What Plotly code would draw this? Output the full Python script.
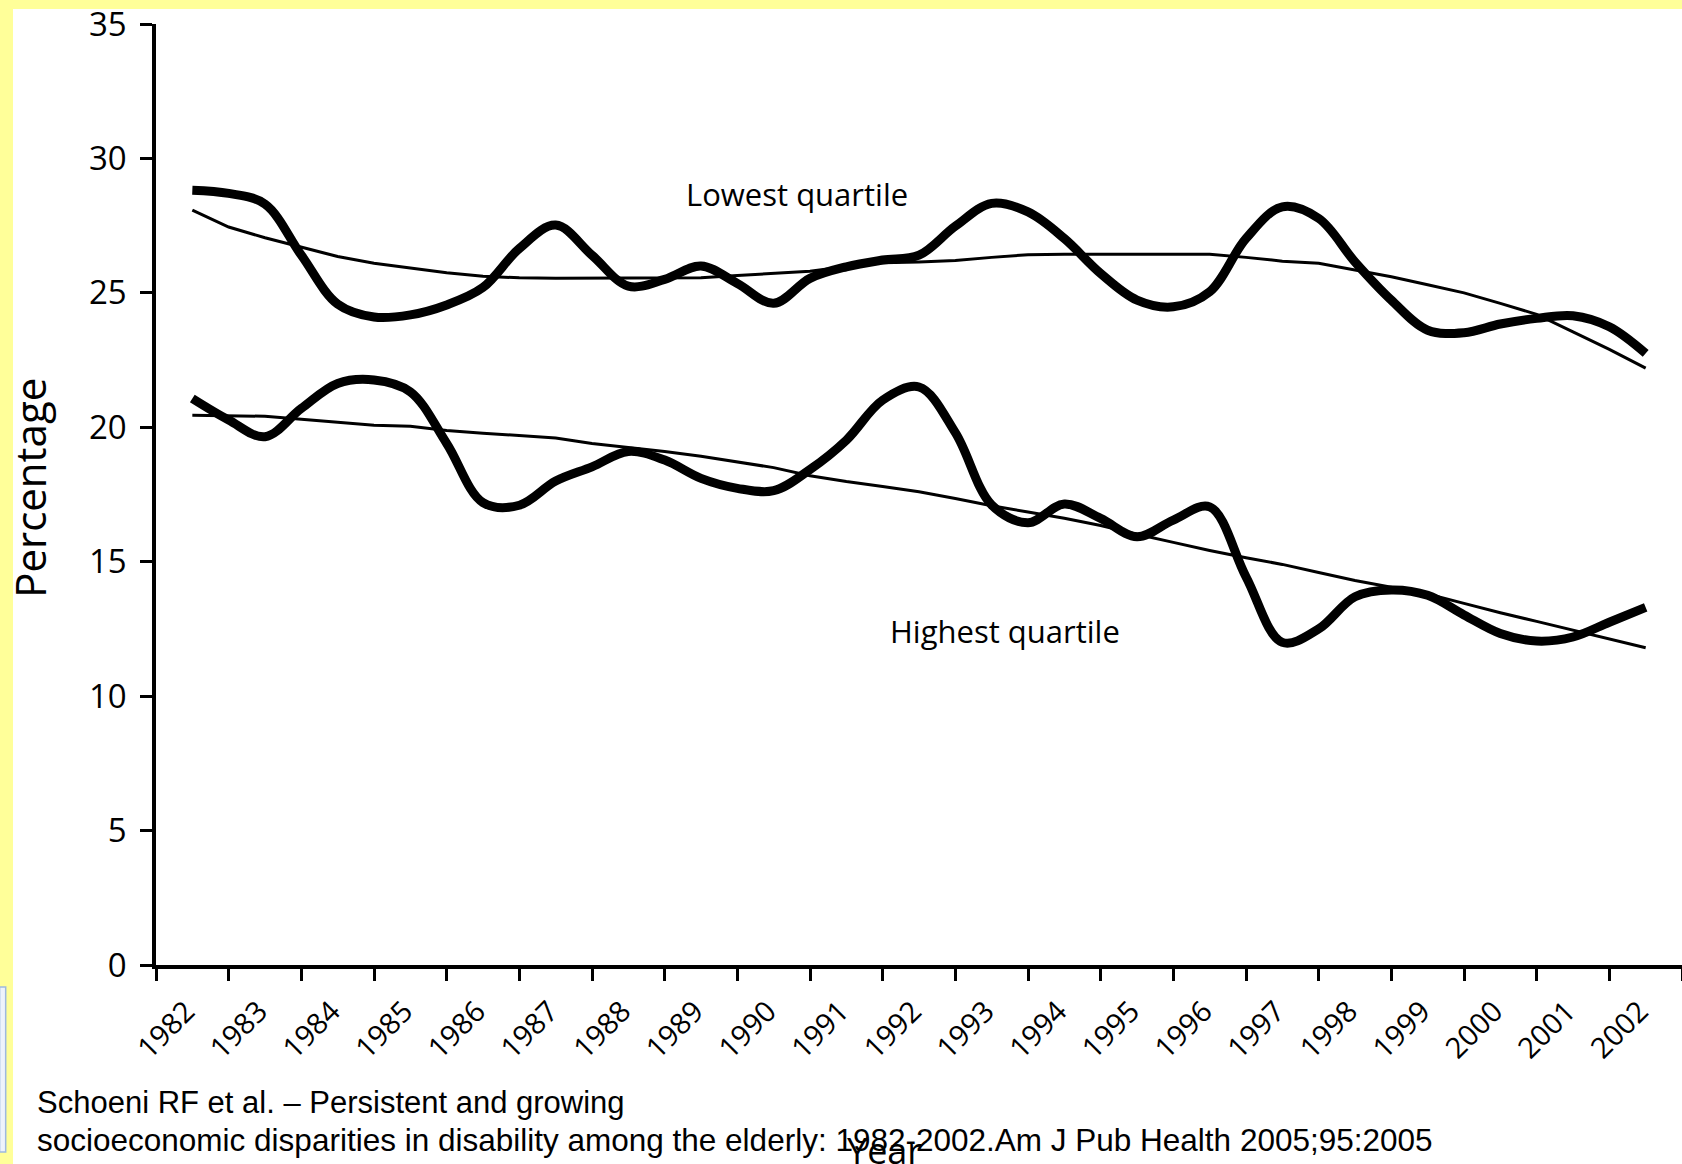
import plotly.graph_objects as go

# half-year sample positions
t = [1982.0, 1982.5, 1983.0, 1983.5, 1984.0, 1984.5, 1985.0, 1985.5, 1986.0, 1986.5,
     1987.0, 1987.5, 1988.0, 1988.5, 1989.0, 1989.5, 1990.0, 1990.5, 1991.0, 1991.5,
     1992.0, 1992.5, 1993.0, 1993.5, 1994.0, 1994.5, 1995.0, 1995.5, 1996.0, 1996.5,
     1997.0, 1997.5, 1998.0, 1998.5, 1999.0, 1999.5, 2000.0, 2000.5, 2001.0, 2001.5,
     2002.0]

lowest = [28.82, 28.70, 28.30, 26.40, 24.58, 24.10, 24.18, 24.55, 25.20, 26.65,
          27.52, 26.40, 25.25, 25.50, 26.00, 25.35, 24.61, 25.54, 25.97, 26.22,
          26.40, 27.48, 28.33, 28.01, 27.02, 25.72, 24.73, 24.48, 25.04, 27.02,
          28.20, 27.77, 26.15, 24.73, 23.61, 23.52, 23.84, 24.05, 24.15, 23.74,
          22.75]

lowest_trend = [28.08, 27.45, 27.05, 26.70, 26.35, 26.10, 25.92, 25.75, 25.62, 25.56,
                25.54, 25.54, 25.54, 25.54, 25.56, 25.65, 25.72, 25.80, 25.98, 26.12,
                26.15, 26.20, 26.32, 26.42, 26.44, 26.44, 26.44, 26.44, 26.44, 26.32,
                26.18, 26.10, 25.85, 25.60, 25.30, 25.00, 24.61, 24.20, 23.55, 22.90,
                22.20]

highest = [21.07, 20.27, 19.65, 20.70, 21.63, 21.76, 21.32, 19.40, 17.20, 17.10,
           18.00, 18.53, 19.10, 18.78, 18.10, 17.73, 17.64, 18.43, 19.52, 21.01,
           21.50, 19.80, 17.11, 16.45, 17.15, 16.61, 15.93, 16.55, 17.04, 14.44,
           12.00, 12.50, 13.70, 13.95, 13.75, 13.02, 12.33, 12.05, 12.20, 12.75,
           13.30]

highest_trend = [20.45, 20.43, 20.41, 20.30, 20.18, 20.08, 20.04, 19.88, 19.78, 19.70,
                 19.60, 19.40, 19.25, 19.10, 18.92, 18.72, 18.50, 18.20, 17.98, 17.80,
                 17.60, 17.35, 17.08, 16.85, 16.62, 16.35, 16.02, 15.72, 15.42, 15.15,
                 14.90, 14.60, 14.30, 14.05, 13.80, 13.45, 13.10, 12.78, 12.45, 12.12,
                 11.80]

years = [1982, 1983, 1984, 1985, 1986, 1987, 1988, 1989, 1990, 1991, 1992,
         1993, 1994, 1995, 1996, 1997, 1998, 1999, 2000, 2001, 2002]
year_labels = [str(y) for y in years]
y_ticks = [0, 5, 10, 15, 20, 25, 30, 35]

FONT = "Open Sans"

fig = go.Figure()

# thin trend lines
fig.add_trace(go.Scatter(x=t, y=lowest_trend, mode="lines",
                         line=dict(color="black", width=3)))
fig.add_trace(go.Scatter(x=t, y=highest_trend, mode="lines",
                         line=dict(color="black", width=3)))
# thick observed lines
fig.add_trace(go.Scatter(x=t, y=lowest, mode="lines",
                         line=dict(color="black", width=9, shape="spline", smoothing=1)))
fig.add_trace(go.Scatter(x=t, y=highest, mode="lines",
                         line=dict(color="black", width=9, shape="spline", smoothing=1)))

# ticks sit on year boundaries, labels on year centres
edges = [y - 0.5 for y in years] + [years[-1] + 0.5]

fig.update_xaxes(range=[1981.5, 2002.5], tickmode="array", tickvals=years,
                 ticktext=year_labels, tickangle=-45, ticks="",
                 tickfont=dict(family=FONT, size=29, color="black"),
                 ticklabelstandoff=14, ticklabelshift=-6,
                 showline=True, linewidth=3.5, linecolor="black",
                 showgrid=False, zeroline=False,
                 minor=dict(tickmode="array", tickvals=edges, ticks="outside",
                            ticklen=12, tickwidth=3, tickcolor="black", showgrid=False))
fig.update_yaxes(range=[0, 35], tickmode="array", tickvals=y_ticks,
                 ticks="outside", ticklen=12, tickwidth=3, tickcolor="black",
                 tickfont=dict(family=FONT, size=33, color="black"),
                 ticklabelstandoff=7,
                 showline=True, linewidth=3.5, linecolor="black",
                 showgrid=False, zeroline=False)

# page: yellow frame with white slide area and the little blue box at left
fig.add_shape(type="rect", xref="paper", yref="paper", x0=-0.0937, x1=1.01,
              y0=-0.22, y1=1.0159, fillcolor="white", line_width=0, layer="below")
fig.add_shape(type="rect", xref="paper", yref="paper", x0=-0.1025, x1=-0.0985,
              y0=-0.1987, y1=-0.0234, fillcolor="#eef3fb",
              line=dict(color="#9db9e0", width=1.5), layer="above")

fig.add_annotation(x=1990.32, y=28.67, text="Lowest quartile", showarrow=False,
                   font=dict(family=FONT, size=31, color="black"))
fig.add_annotation(x=1993.18, y=12.42, text="Highest quartile", showarrow=False,
                   font=dict(family=FONT, size=31, color="black"))
fig.add_annotation(xref="paper", yref="paper", x=-0.0826, y=0.507, text="Percentage",
                   textangle=-90, showarrow=False, xanchor="center", yanchor="middle",
                   font=dict(family=FONT, size=42, color="black"))
fig.add_annotation(xref="paper", yref="paper", x=0.4777, y=-0.1690, yanchor="top",
                   xanchor="center", text="Year", showarrow=False,
                   font=dict(family=FONT, size=36, color="black"))

fig.add_annotation(xref="paper", yref="paper", x=-0.0793, y=(965 - 1102) / 941,
                   xanchor="left", yanchor="middle", showarrow=False,
                   text="Schoeni RF et al. \u2013 Persistent and growing",
                   font=dict(family="Liberation Sans", size=31, color="black"))
fig.add_annotation(xref="paper", yref="paper", x=-0.0793, y=(965 - 1140) / 941,
                   xanchor="left", yanchor="middle", showarrow=False,
                   text="socioeconomic disparities in disability among the elderly: "
                        "1982-2002.Am J Pub Health 2005;95:2005",
                   font=dict(family="Liberation Sans", size=31.5, color="black"))

fig.update_layout(width=1682, height=1164, showlegend=False,
                  margin=dict(l=156, r=0, t=24, b=199),
                  paper_bgcolor="#ffff99", plot_bgcolor="white")

# drop the page's default body margin so the figure fills the window
fig.write_html("out.html", config={"displayModeBar": False},
               post_script="document.body.style.margin='0';"
                           "document.body.style.background='#ffff99';")
